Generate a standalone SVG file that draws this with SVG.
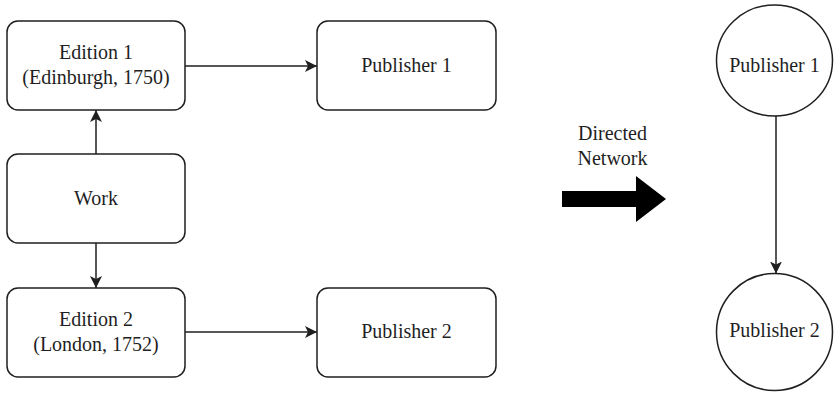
<svg xmlns="http://www.w3.org/2000/svg" width="834" height="393" viewBox="0 0 834 393">
<style>
.box{fill:#fff;stroke:#1f1f1f;stroke-width:1.5}
.lbl{font-family:"Liberation Serif","Times New Roman",serif;font-size:20px;fill:#1f1f1f;text-anchor:middle}
.edge{fill:none;stroke:#1f1f1f;stroke-width:1.5}
</style>
<defs>
<marker id="ah" markerUnits="userSpaceOnUse" markerWidth="12" markerHeight="12" viewBox="0 0 12 12" refX="12" refY="6" orient="auto">
<path d="M0,0 L12,6 L0,12 L3,6 z" fill="#1f1f1f"/>
</marker>
</defs>
<rect width="834" height="393" fill="#fff"/>
<g id="edition1">
<rect class="box" x="7" y="21" width="178" height="89" rx="11"/>
<text class="lbl" x="96" y="59">Edition 1</text>
<text class="lbl" x="96" y="84">(Edinburgh, 1750)</text>
</g>
<g id="publisher1">
<rect class="box" x="317" y="21" width="179" height="89" rx="11"/>
<text class="lbl" x="406.5" y="72">Publisher 1</text>
</g>
<g id="work">
<rect class="box" x="7" y="154" width="178" height="89" rx="11"/>
<text class="lbl" x="96" y="205">Work</text>
</g>
<g id="edition2">
<rect class="box" x="7" y="288" width="178" height="89" rx="11"/>
<text class="lbl" x="96" y="326">Edition 2</text>
<text class="lbl" x="96" y="351">(London, 1752)</text>
</g>
<g id="publisher2">
<rect class="box" x="317" y="288" width="179" height="89" rx="11"/>
<text class="lbl" x="406.5" y="338">Publisher 2</text>
</g>
<g id="net-publisher1">
<ellipse class="box" cx="774.5" cy="60.5" rx="58" ry="55.5"/>
<text class="lbl" x="774.5" y="72">Publisher 1</text>
</g>
<g id="net-publisher2">
<ellipse class="box" cx="774.5" cy="332" rx="58" ry="58.5"/>
<text class="lbl" x="774.5" y="337">Publisher 2</text>
</g>
<g id="transform">
<polygon points="562,191 636,191 636,176 666,199 636,222 636,207 562,207" fill="#000"/>
<text class="lbl" x="612.5" y="140">Directed</text>
<text class="lbl" x="612.5" y="165">Network</text>
</g>
<g id="connectors">
<line class="edge" x1="185" y1="66" x2="317" y2="66" marker-end="url(#ah)"/>
<line class="edge" x1="96" y1="154" x2="96" y2="110" marker-end="url(#ah)"/>
<line class="edge" x1="96" y1="243" x2="96" y2="288" marker-end="url(#ah)"/>
<line class="edge" x1="185" y1="332" x2="317" y2="332" marker-end="url(#ah)"/>
<line class="edge" x1="776" y1="116" x2="776" y2="273.5" marker-end="url(#ah)"/>
</g>
</svg>
